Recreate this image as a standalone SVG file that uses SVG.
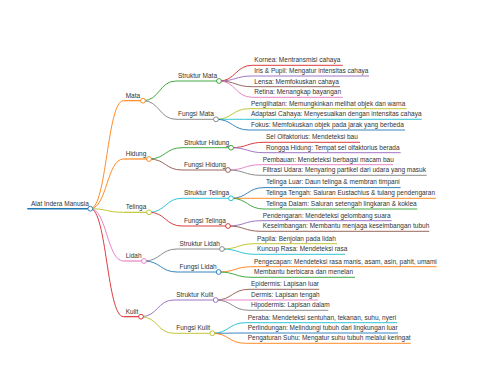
<svg xmlns="http://www.w3.org/2000/svg" width="480" height="384" viewBox="0 0 480 384">
<style>
.t{font-family:"Liberation Sans",Arial,sans-serif;font-size:6.5px;fill:#333}
line,path{fill:none;stroke-width:0.9}
circle{fill:#fff;stroke-width:0.9}
.b{stroke:#1f77b4}.o{stroke:#ff7f0e}.g{stroke:#2ca02c}.r{stroke:#d62728}.p{stroke:#9467bd}
.br{stroke:#8c564b}.pk{stroke:#e377c2}.gy{stroke:#7f7f7f}.ol{stroke:#bcbd22}.cy{stroke:#17becf}
</style>
<rect width="480" height="384" fill="#fff"/>
<g id="connectors">
<path class="o" d="M90.3,208.7C106.9,208.7 106.9,100.7 123.5,100.7"/>
<path class="o" d="M90.3,208.7C106.9,208.7 106.9,159 123.5,159"/>
<path class="ol" d="M90.3,208.7C106.9,208.7 106.9,212.3 123.5,212.3"/>
<path class="pk" d="M90.3,208.7C106.9,208.7 106.9,261 123.5,261"/>
<path class="r" d="M90.3,208.7C106.9,208.7 106.9,316.7 123.5,316.7"/>
<path class="g" d="M143,100.7C159.5,100.7 159.5,81 176,81"/>
<path class="gy" d="M143,100.7C159.5,100.7 159.5,119.3 176,119.3"/>
<path class="g" d="M149,159C165.5,159 165.5,147.7 182,147.7"/>
<path class="br" d="M149,159C165.5,159 165.5,170 182,170"/>
<path class="cy" d="M149,212.3C165.5,212.3 165.5,198.3 182,198.3"/>
<path class="r" d="M149,212.3C165.5,212.3 165.5,226 182,226"/>
<path class="gy" d="M144,261C160.5,261 160.5,249 177,249"/>
<path class="b" d="M144,261C160.5,261 160.5,272 177,272"/>
<path class="p" d="M141,316.7C157.5,316.7 157.5,300 174,300"/>
<path class="ol" d="M141,316.7C157.5,316.7 157.5,333.3 174,333.3"/>
<path class="r" d="M219,81C235.6,81 235.6,65.3 252.2,65.3"/>
<path class="p" d="M219,81C235.6,81 235.6,76 252.2,76"/>
<path class="br" d="M219,81C235.6,81 235.6,86.7 252.2,86.7"/>
<path class="pk" d="M219,81C235.6,81 235.6,97.3 252.2,97.3"/>
<path class="ol" d="M216,119.3C232.5,119.3 232.5,108.7 249,108.7"/>
<path class="cy" d="M216,119.3C232.5,119.3 232.5,119.3 249,119.3"/>
<path class="b" d="M216,119.3C232.5,119.3 232.5,130 249,130"/>
<path class="r" d="M231,147.7C247.5,147.7 247.5,142.3 264,142.3"/>
<path class="p" d="M231,147.7C247.5,147.7 247.5,152.7 264,152.7"/>
<path class="pk" d="M228,170C244.5,170 244.5,164.7 261,164.7"/>
<path class="gy" d="M228,170C244.5,170 244.5,175.3 261,175.3"/>
<path class="b" d="M231,198.3C247.5,198.3 247.5,187.6 264,187.6"/>
<path class="o" d="M231,198.3C247.5,198.3 247.5,198.3 264,198.3"/>
<path class="g" d="M231,198.3C247.5,198.3 247.5,209 264,209"/>
<path class="p" d="M228,226C244.5,226 244.5,220.7 261,220.7"/>
<path class="br" d="M228,226C244.5,226 244.5,231.3 261,231.3"/>
<path class="ol" d="M222,249C238.5,249 238.5,243.7 255,243.7"/>
<path class="cy" d="M222,249C238.5,249 238.5,254.3 255,254.3"/>
<path class="o" d="M218.7,272C235.3,272 235.3,266.7 252,266.7"/>
<path class="g" d="M218.7,272C235.3,272 235.3,277.3 252,277.3"/>
<path class="br" d="M215.7,300C232.3,300 232.3,289.3 249,289.3"/>
<path class="pk" d="M215.7,300C232.3,300 232.3,300 249,300"/>
<path class="gy" d="M215.7,300C232.3,300 232.3,310.3 249,310.3"/>
<path class="cy" d="M212.3,333.3C228.9,333.3 228.9,322.7 245.5,322.7"/>
<path class="b" d="M212.3,333.3C228.9,333.3 228.9,333 245.5,333"/>
<path class="o" d="M212.3,333.3C228.9,333.3 228.9,343.3 245.5,343.3"/>
</g>
<g id="root"><line class="b" x1="27.3" y1="208.7" x2="90.3" y2="208.7" style="stroke-width:1.4"/><circle class="b" cx="90.3" cy="208.7" r="2.4"/><text class="t" x="31" y="205.6">Alat Indera Manusia</text></g>
<g id="mata"><line class="o" x1="123.5" y1="100.7" x2="143" y2="100.7" style="stroke-width:1.1"/><circle class="o" cx="143" cy="100.7" r="2.4"/><text class="t" x="125.7" y="97.5">Mata</text></g>
<g id="hidung"><line class="o" x1="123.5" y1="159" x2="149" y2="159" style="stroke-width:1.1"/><circle class="o" cx="149" cy="159" r="2.4"/><text class="t" x="125.7" y="155.8">Hidung</text></g>
<g id="telinga"><line class="ol" x1="123.5" y1="212.3" x2="149" y2="212.3" style="stroke-width:1.1"/><circle class="ol" cx="149" cy="212.3" r="2.4"/><text class="t" x="125.7" y="209.1">Telinga</text></g>
<g id="lidah"><line class="pk" x1="123.5" y1="261" x2="144" y2="261" style="stroke-width:1.1"/><circle class="pk" cx="144" cy="261" r="2.4"/><text class="t" x="125.7" y="257.8">Lidah</text></g>
<g id="kulit"><line class="r" x1="123.5" y1="316.7" x2="141" y2="316.7" style="stroke-width:1.1"/><circle class="r" cx="141" cy="316.7" r="2.4"/><text class="t" x="125.7" y="313.5">Kulit</text></g>
<g id="struktur-mata"><line class="g" x1="176" y1="81" x2="219" y2="81"/><circle class="g" cx="219" cy="81" r="2.4"/><text class="t" x="178" y="77.8">Struktur Mata</text></g>
<g id="fungsi-mata"><line class="gy" x1="176" y1="119.3" x2="216" y2="119.3"/><circle class="gy" cx="216" cy="119.3" r="2.4"/><text class="t" x="178" y="116.1">Fungsi Mata</text></g>
<g id="struktur-hidung"><line class="g" x1="182" y1="147.7" x2="231" y2="147.7"/><circle class="g" cx="231" cy="147.7" r="2.4"/><text class="t" x="184" y="144.5">Struktur Hidung</text></g>
<g id="fungsi-hidung"><line class="br" x1="182" y1="170" x2="228" y2="170"/><circle class="br" cx="228" cy="170" r="2.4"/><text class="t" x="184" y="166.8">Fungsi Hidung</text></g>
<g id="struktur-telinga"><line class="cy" x1="182" y1="198.3" x2="231" y2="198.3"/><circle class="cy" cx="231" cy="198.3" r="2.4"/><text class="t" x="184" y="195.1">Struktur Telinga</text></g>
<g id="fungsi-telinga"><line class="r" x1="182" y1="226" x2="228" y2="226"/><circle class="r" cx="228" cy="226" r="2.4"/><text class="t" x="184" y="222.8">Fungsi Telinga</text></g>
<g id="struktur-lidah"><line class="gy" x1="177" y1="249" x2="222" y2="249"/><circle class="gy" cx="222" cy="249" r="2.4"/><text class="t" x="179.5" y="245.8">Struktur Lidah</text></g>
<g id="fungsi-lidah"><line class="b" x1="177" y1="272" x2="218.7" y2="272"/><circle class="b" cx="218.7" cy="272" r="2.4"/><text class="t" x="179.5" y="268.8">Fungsi Lidah</text></g>
<g id="struktur-kulit"><line class="p" x1="174" y1="300" x2="215.7" y2="300"/><circle class="p" cx="215.7" cy="300" r="2.4"/><text class="t" x="176.2" y="296.8">Struktur Kulit</text></g>
<g id="fungsi-kulit"><line class="ol" x1="174" y1="333.3" x2="212.3" y2="333.3"/><circle class="ol" cx="212.3" cy="333.3" r="2.4"/><text class="t" x="176.2" y="330.1">Fungsi Kulit</text></g>
<g id="kornea"><line class="r" x1="252.2" y1="65.3" x2="342.7" y2="65.3"/><text class="t" x="254.3" y="62.1">Kornea: Mentransmisi cahaya</text></g>
<g id="iris"><line class="p" x1="252.2" y1="76" x2="369" y2="76"/><text class="t" x="254.3" y="72.8">Iris &amp; Pupil: Mengatur intensitas cahaya</text></g>
<g id="lensa"><line class="br" x1="252.2" y1="86.7" x2="340" y2="86.7"/><text class="t" x="254.3" y="83.5">Lensa: Memfokuskan cahaya</text></g>
<g id="retina"><line class="pk" x1="252.2" y1="97.3" x2="342.7" y2="97.3"/><text class="t" x="254.3" y="94.1">Retina: Menangkap bayangan</text></g>
<g id="penglihatan"><line class="ol" x1="249" y1="108.7" x2="406.7" y2="108.7"/><text class="t" x="251" y="105.5">Penglihatan: Memungkinkan melihat objek dan warna</text></g>
<g id="adaptasi"><line class="cy" x1="249" y1="119.3" x2="421.7" y2="119.3"/><text class="t" x="251" y="116.1">Adaptasi Cahaya: Menyesuaikan dengan intensitas cahaya</text></g>
<g id="fokus"><line class="b" x1="249" y1="130" x2="405" y2="130"/><text class="t" x="251" y="126.8">Fokus: Memfokuskan objek pada jarak yang berbeda</text></g>
<g id="sel-olfaktorius"><line class="r" x1="264" y1="142.3" x2="360" y2="142.3"/><text class="t" x="266" y="139.1">Sel Olfaktorius: Mendeteksi bau</text></g>
<g id="rongga-hidung"><line class="p" x1="264" y1="152.7" x2="400.7" y2="152.7"/><text class="t" x="266" y="149.5">Rongga Hidung: Tempat sel olfaktorius berada</text></g>
<g id="pembauan"><line class="pk" x1="261" y1="164.7" x2="393" y2="164.7"/><text class="t" x="262.7" y="161.5">Pembauan: Mendeteksi berbagai macam bau</text></g>
<g id="filtrasi"><line class="gy" x1="261" y1="175.3" x2="426.7" y2="175.3"/><text class="t" x="262.7" y="172.1">Filtrasi Udara: Menyaring partikel dari udara yang masuk</text></g>
<g id="telinga-luar"><line class="b" x1="264" y1="187.6" x2="400.7" y2="187.6"/><text class="t" x="266" y="184.4">Telinga Luar: Daun telinga &amp; membran timpani</text></g>
<g id="telinga-tengah"><line class="o" x1="264" y1="198.3" x2="436" y2="198.3"/><text class="t" x="266" y="195.1">Telinga Tengah: Saluran Eustachius &amp; tulang pendengaran</text></g>
<g id="telinga-dalam"><line class="g" x1="264" y1="209" x2="417.3" y2="209"/><text class="t" x="266" y="205.8">Telinga Dalam: Saluran setengah lingkaran &amp; koklea</text></g>
<g id="pendengaran"><line class="p" x1="261" y1="220.7" x2="391.7" y2="220.7"/><text class="t" x="262.7" y="217.5">Pendengaran: Mendeteksi gelombang suara</text></g>
<g id="keseimbangan"><line class="br" x1="261" y1="231.3" x2="429.3" y2="231.3"/><text class="t" x="262.7" y="228.1">Keseimbangan: Membantu menjaga keseimbangan tubuh</text></g>
<g id="papila"><line class="ol" x1="255" y1="243.7" x2="337.3" y2="243.7"/><text class="t" x="257" y="240.5">Papila: Benjolan pada lidah</text></g>
<g id="kuncup-rasa"><line class="cy" x1="255" y1="254.3" x2="345.3" y2="254.3"/><text class="t" x="257" y="251.1">Kuncup Rasa: Mendeteksi rasa</text></g>
<g id="pengecapan"><line class="o" x1="252" y1="266.7" x2="436.7" y2="266.7"/><text class="t" x="254" y="263.5">Pengecapan: Mendeteksi rasa manis, asam, asin, pahit, umami</text></g>
<g id="membantu"><line class="g" x1="252" y1="277.3" x2="355" y2="277.3"/><text class="t" x="254" y="274.1">Membantu berbicara dan menelan</text></g>
<g id="epidermis"><line class="br" x1="249" y1="289.3" x2="319.3" y2="289.3"/><text class="t" x="251" y="286.1">Epidermis: Lapisan luar</text></g>
<g id="dermis"><line class="pk" x1="249" y1="300" x2="318.3" y2="300"/><text class="t" x="251" y="296.8">Dermis: Lapisan tengah</text></g>
<g id="hipodermis"><line class="gy" x1="249" y1="310.3" x2="328.3" y2="310.3"/><text class="t" x="251" y="307.1">Hipodermis: Lapisan dalam</text></g>
<g id="peraba"><line class="cy" x1="245.5" y1="322.7" x2="397.3" y2="322.7"/><text class="t" x="247.7" y="319.5">Peraba: Mendeteksi sentuhan, tekanan, suhu, nyeri</text></g>
<g id="perlindungan"><line class="b" x1="245.5" y1="333" x2="398" y2="333"/><text class="t" x="247.7" y="329.8">Perlindungan: Melindungi tubuh dari lingkungan luar</text></g>
<g id="pengaturan-suhu"><line class="o" x1="245.5" y1="343.3" x2="410.7" y2="343.3"/><text class="t" x="247.7" y="340.1">Pengaturan Suhu: Mengatur suhu tubuh melalui keringat</text></g>
</svg>
